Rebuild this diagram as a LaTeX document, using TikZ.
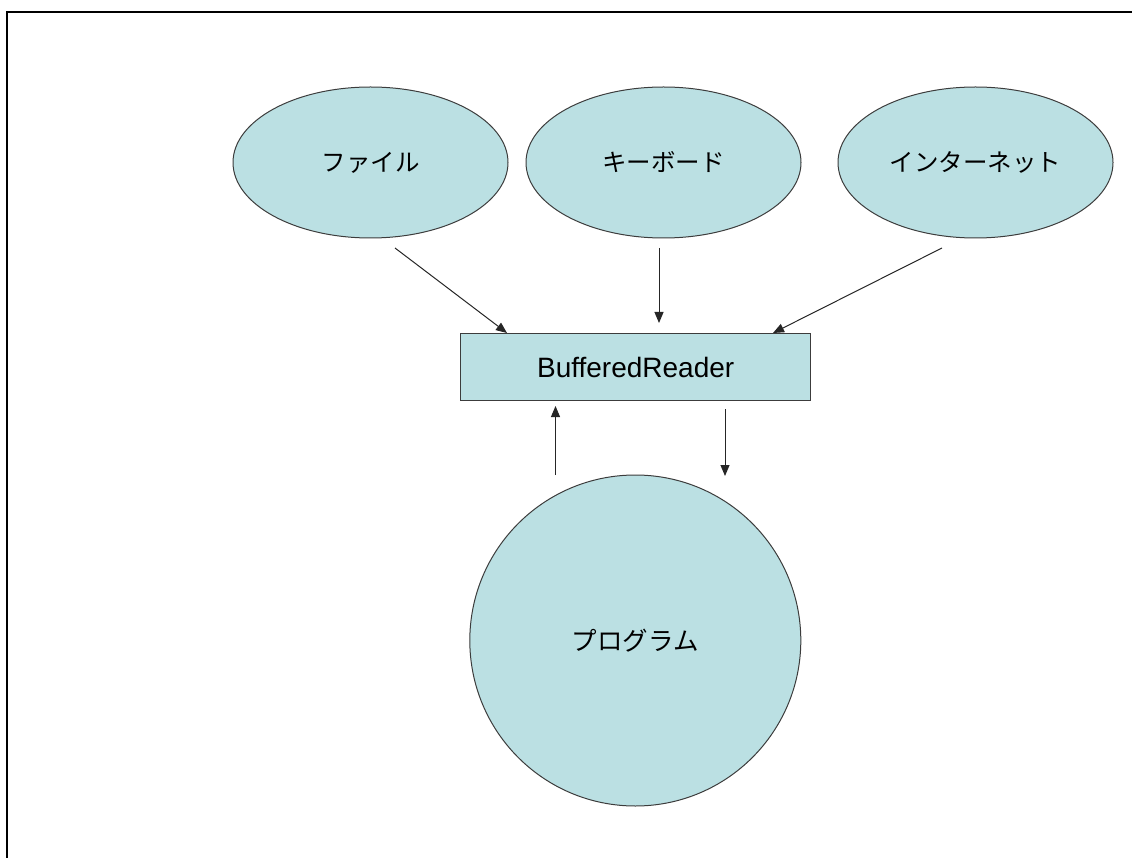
\documentclass[tikz,border=0pt]{standalone}
\usepackage{fontspec}
\setmainfont{Liberation Sans}
\newfontfamily\jpfont{Noto Sans CJK JP}
\usetikzlibrary{shapes.geometric,arrows.meta,calc}
\definecolor{fillc}{RGB}{187,224,227}
\definecolor{edgec}{RGB}{60,60,60}
\tikzset{
  srcnode/.style={ellipse, draw=edgec, fill=fillc, line width=1pt,
    minimum width=275pt, minimum height=151pt, inner sep=0pt,
    font=\jpfont\fontsize{24.5}{28}\selectfont},
  boxnode/.style={rectangle, draw=edgec, fill=fillc, line width=1pt,
    minimum width=350pt, minimum height=66pt, inner sep=0pt,
    font=\fontsize{28}{32}\selectfont},
  prognode/.style={circle, draw=edgec, fill=fillc, line width=1pt,
    minimum size=331pt, inner sep=0pt,
    font=\jpfont\fontsize{25.5}{30}\selectfont},
  arr/.style={-{Triangle[length=11pt,width=9pt]}, line width=1pt, draw=black!85},
  framestyle/.style={line width=2pt, draw=black}
}
\begin{document}
\begin{tikzpicture}[x=1pt,y=-1pt]
\useasboundingbox (0,0) rectangle (1132,858);
\draw[framestyle] (7.3,858) -- (7.3,12.3) -- (1132,12.3);

\node[srcnode] (file) at (370.5,162.5) {ファイル};
\node[srcnode] (kbd) at (663.5,162.5) {キーボード};
\node[srcnode] (net) at (975.5,162.5) {インターネット};
\node[boxnode] (br) at (635.7,367) {BufferedReader};
\node[prognode] (prog) at (635.3,640.5) {プログラム};

\coordinate (fileout) at (395,248);
\coordinate (kbdout) at (659,248);
\coordinate (netout) at (942,248);
\coordinate (brinL) at (507,333);
\coordinate (brinM) at (659,323);
\coordinate (brinR) at (773,333);
\coordinate (progup) at (555.5,475);
\coordinate (brupin) at (555.5,406);
\coordinate (brdown) at (725,409);
\coordinate (progin) at (725,476);

\draw[arr] (fileout) -- (brinL);
\draw[arr] (kbdout) -- (brinM);
\draw[arr] (netout) -- (brinR);
\draw[arr] (progup) -- (brupin);
\draw[arr] (brdown) -- (progin);
\end{tikzpicture}
\end{document}
